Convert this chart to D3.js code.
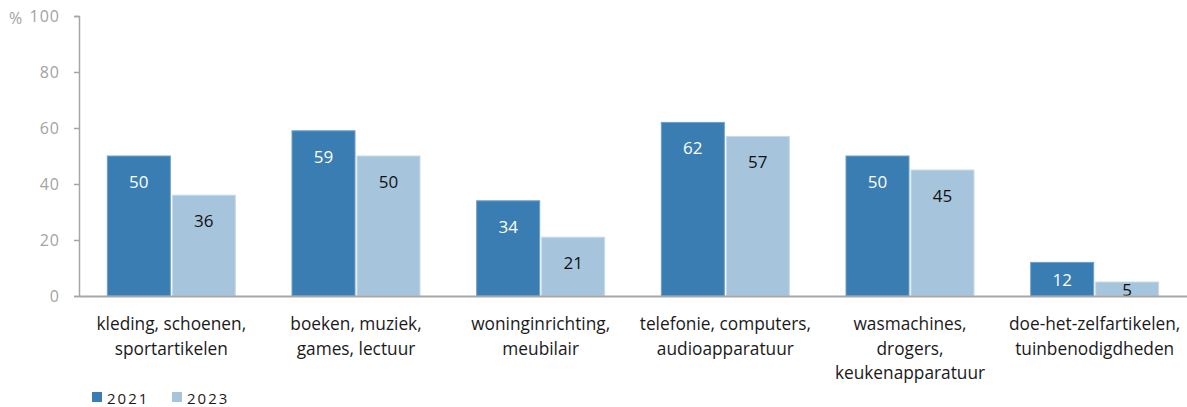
<!DOCTYPE html>
<html><head><meta charset="utf-8">
<script src="https://cdn.jsdelivr.net/npm/d3@7"></script>
<style>
html,body{margin:0;padding:0;background:#fff;}
svg text{font-family:"Open Sans","DejaVu Sans",sans-serif;}
</style></head>
<body><svg id="c" width="1187" height="407"></svg>
<script>
const categories = [
  ["kleding, schoenen,", "sportartikelen"],
  ["boeken, muziek,", "games, lectuur"],
  ["woninginrichting,", "meubilair"],
  ["telefonie, computers,", "audioapparatuur"],
  ["wasmachines,", "drogers,", "keukenapparatuur"],
  ["doe-het-zelfartikelen,", "tuinbenodigdheden"]
];
const seriesNames = ["2021", "2023"];
const values2021 = [50, 59, 34, 62, 50, 12];
const values2023 = [36, 50, 21, 57, 45, 5];
const yTicks = [0, 20, 40, 60, 80, 100];
const colors = ["#397db2", "#a6c5dc"];

const svg = d3.select("#c");
const x0 = d3.scaleBand().domain(d3.range(categories.length)).range([79, 1187]).paddingInner(0.296).paddingOuter(0.148);
const x1 = d3.scaleBand().domain(seriesNames).range([0, x0.bandwidth()]).padding(0.0);
const y = d3.scaleLinear().domain([0, 100]).range([296, 16]);

// y axis
const yAxis = d3.axisLeft(y).tickValues(yTicks).tickSize(5).tickPadding(14);
const gy = svg.append("g").attr("transform", "translate(79,0)").call(yAxis);
gy.select(".domain").attr("stroke", "#a6a6a6").attr("stroke-width", 1.5);
gy.selectAll(".tick line").attr("stroke", "#a6a6a6").attr("stroke-width", 1.5);
gy.selectAll(".tick text").attr("fill", "#a3a3a3").style("font-size", "16px").style("letter-spacing", "1px");
svg.append("text").attr("x", 9).attr("y", 24).attr("fill", "#a3a3a3").style("font-size", "16px").text("%");

const data = [values2021, values2023];
const groups = svg.append("g").selectAll("g").data(categories).join("g")
  .attr("transform", (d, i) => `translate(${x0(i)},0)`);

groups.each(function(cat, i) {
  const g = d3.select(this);
  seriesNames.forEach((s, k) => {
    const v = data[k][i];
    const bx = x1(s), bw = x1.bandwidth();
    g.append("rect").attr("x", bx + 1).attr("y", y(v)).attr("width", bw - 2).attr("height", y(0) - y(v))
      .attr("fill", colors[k]).attr("stroke", k === 0 ? "#6fa0c8" : "#c8dbea").attr("stroke-width", 1);
    const ly = Math.min(y(v) + 32, (y(v) + y(0)) / 2 + 7);
    g.append("text").attr("x", bx + bw / 2).attr("y", ly).attr("text-anchor", "middle")
      .attr("fill", k === 0 ? "#ffffff" : "#111111").style("font-size", "17px").text(v);
  });
});

// x axis line
const gx = svg.append("g").attr("transform", "translate(0,296)").call(d3.axisBottom(x0).tickSize(0).tickFormat(""));
gx.select(".domain").attr("stroke", "#a6a6a6").attr("stroke-width", 2);

// category labels
groups.each(function(cat) {
  const t = d3.select(this).append("text").attr("text-anchor", "middle").attr("fill", "#1a1a1a").style("font-size", "17.3px");
  cat.forEach((line, j) => {
    t.append("tspan").attr("x", x0.bandwidth() / 2).attr("y", 330 + j * 24.5).text(line);
  });
});

// legend
const leg = svg.append("g");
seriesNames.forEach((s, k) => {
  const lx = 92 + k * 80;
  leg.append("rect").attr("x", lx).attr("y", 392).attr("width", 10).attr("height", 10).attr("fill", colors[k]);
  leg.append("text").attr("x", lx + 15).attr("y", 404).attr("fill", "#1a1a1a").style("font-size", "15px").style("letter-spacing", "2px").text(s);
});
</script></body></html>
